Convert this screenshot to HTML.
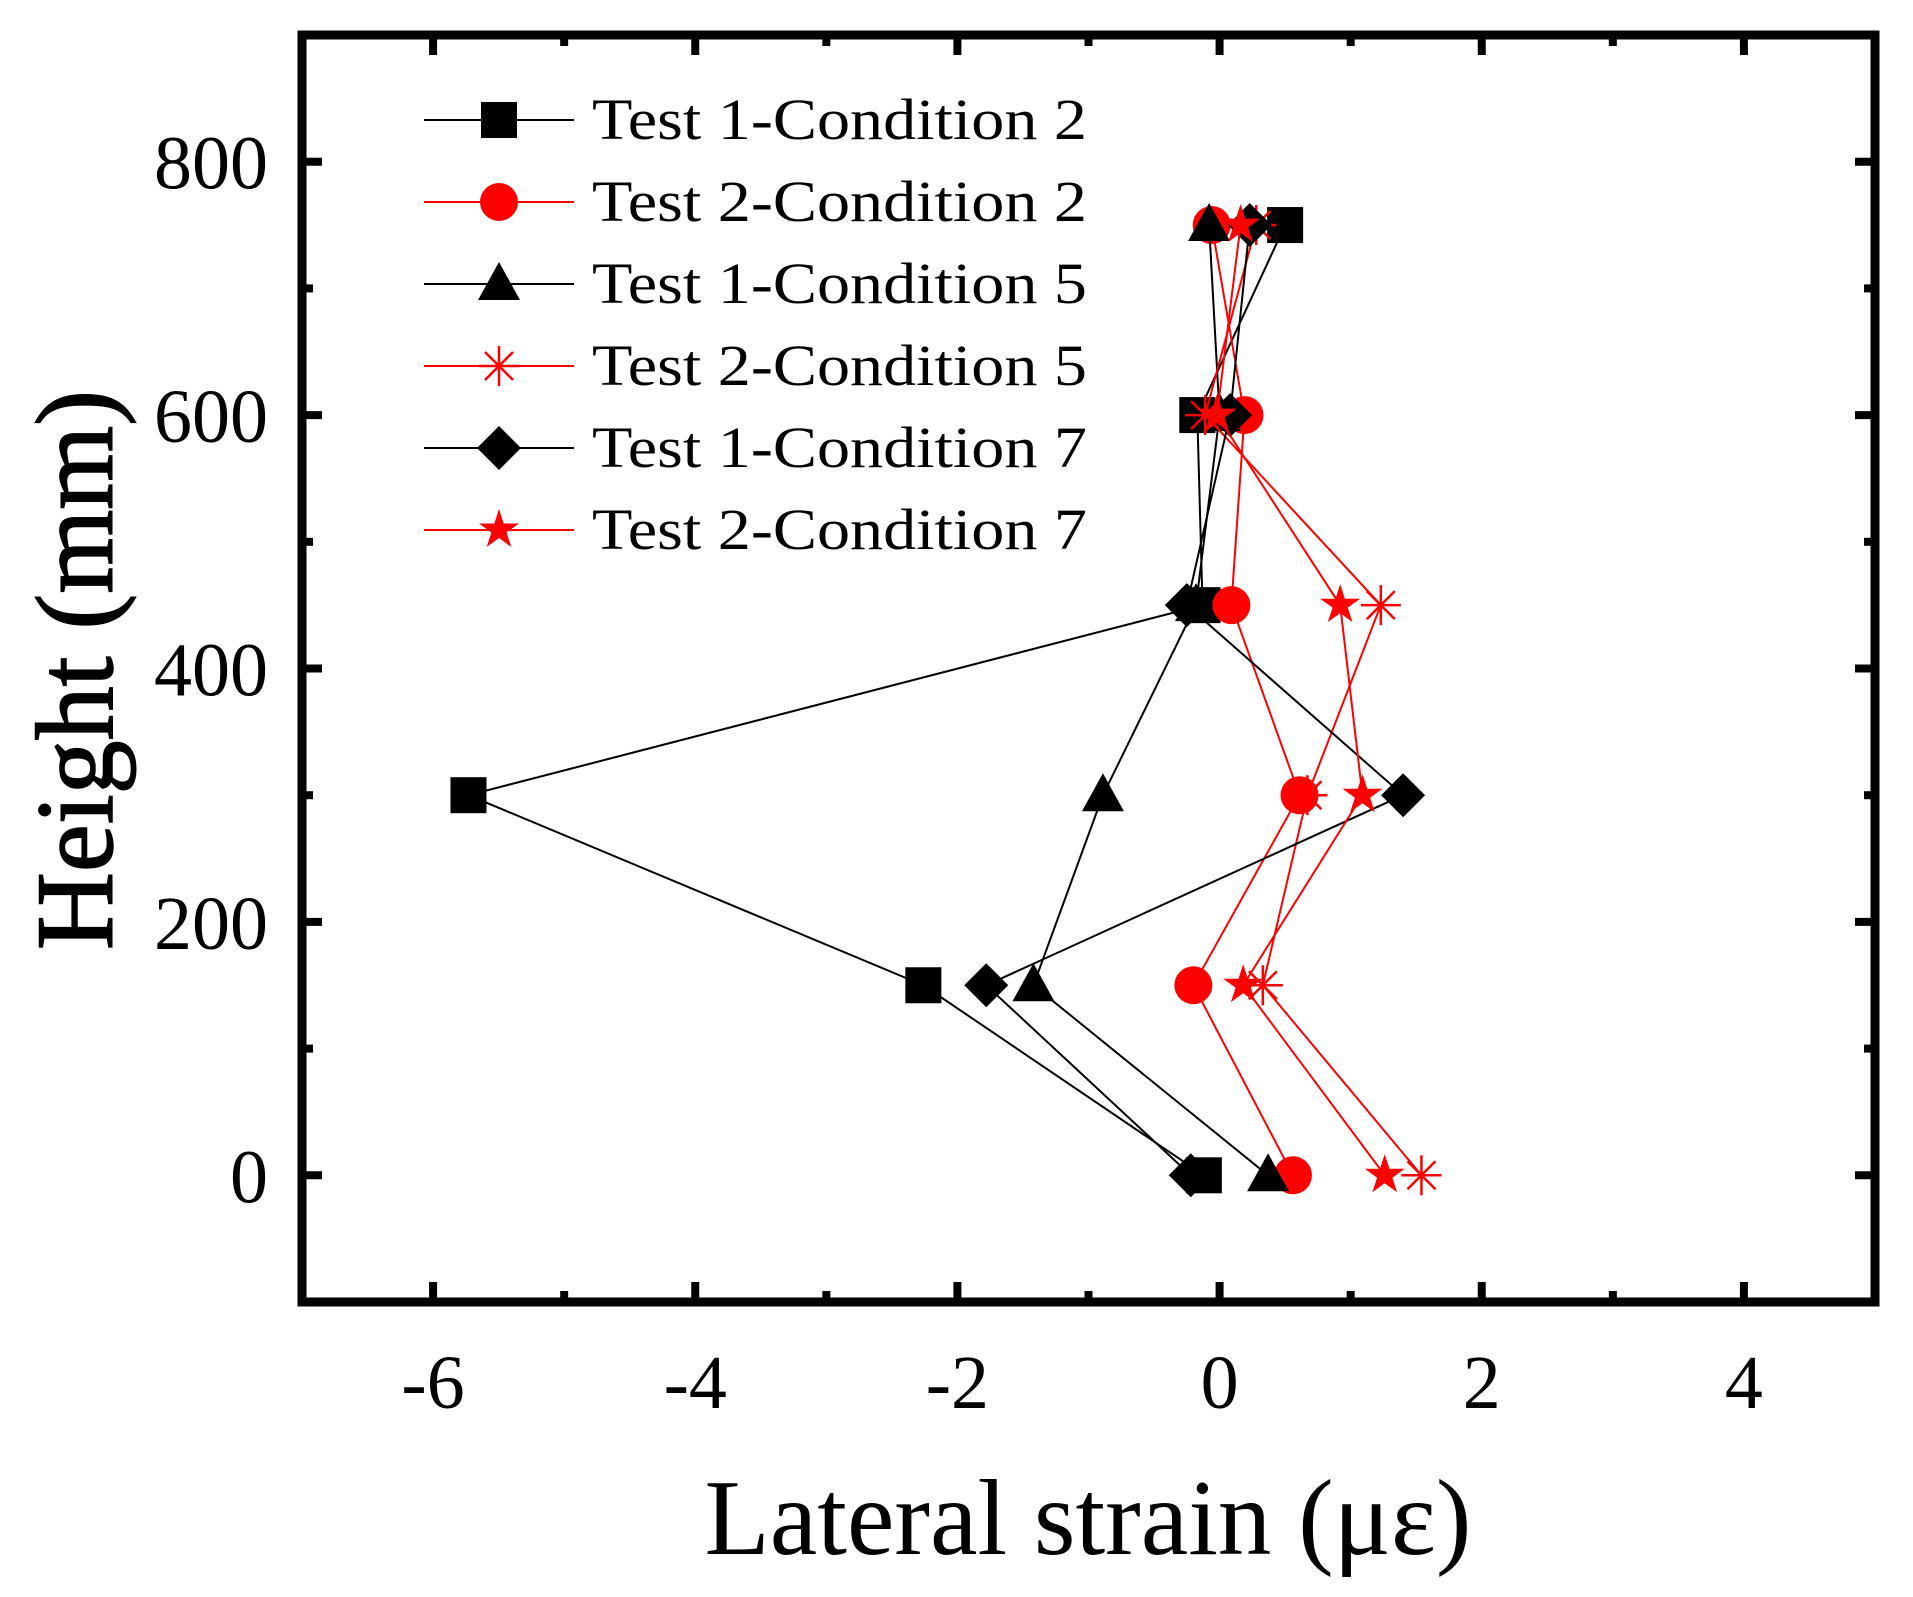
<!DOCTYPE html>
<html><head><meta charset="utf-8"><style>html,body{margin:0;padding:0;background:#fff}svg{display:block}</style></head>
<body>
<svg id="chart" xmlns="http://www.w3.org/2000/svg" width="1913" height="1597" viewBox="0 0 1913 1597" font-family="'Liberation Serif', serif">
<rect width="1913" height="1597" fill="#fff"/>
<g id="marks"></g>
<g id="axes"></g>
<g id="legend"></g>
<text x="1088" y="1554" font-size="108" text-anchor="middle" textLength="767" lengthAdjust="spacingAndGlyphs">Lateral strain (με)</text>
<text transform="translate(112,670) rotate(-90)" font-size="110" text-anchor="middle" textLength="560" lengthAdjust="spacingAndGlyphs" stroke="#000" stroke-width="1.5">Height (mm)</text>
</svg>
<script>
const heights=[750,600,450,300,150,0];
const seriesNames=["Test 1-Condition 2","Test 2-Condition 2","Test 1-Condition 5","Test 2-Condition 5","Test 1-Condition 7","Test 2-Condition 7"];
const t1c2=[0.5,-0.17,-0.13,-5.73,-2.26,-0.12];
const t2c2=[-0.06,0.19,0.09,0.61,-0.2,0.56];
const t1c5=[-0.08,0.0,-0.18,-0.89,-1.42,0.37];
const t2c5=[0.28,-0.11,1.23,0.67,0.33,1.54];
const t1c7=[0.23,0.08,-0.25,1.4,-1.78,-0.22];
const t2c7=[0.16,-0.02,0.92,1.09,0.18,1.26];
const xTicks=[-6,-4,-2,0,2,4];
const yTicks=[0,200,400,600,800];
const NS="http://www.w3.org/2000/svg";
const L=302,R=1875,T=35,B=1302,XMIN=-7,XMAX=5,YMIN=-100,YMAX=900;
function sx(v){return L+(v-XMIN)/(XMAX-XMIN)*(R-L);}
function sy(v){return B-(v-YMIN)/(YMAX-YMIN)*(B-T);}
function mk(tag,attrs,parent){const e=document.createElementNS(NS,tag);for(const k in attrs)e.setAttribute(k,attrs[k]);parent.appendChild(e);return e;}
const marks=document.getElementById('marks'),axes=document.getElementById('axes'),leg=document.getElementById('legend');
const series=[t1c2,t2c2,t1c5,t2c5,t1c7,t2c7];
const colors=["#000","#f00","#000","#f00","#000","#f00"];
const shapes=["square","circle","triangle","asterisk","diamond","star"];
function marker(shape,x,y,c,parent){
  let e;
  if(shape==="square"){e=mk('rect',{x:x-18,y:y-18,width:36,height:36,fill:c},parent);}
  else if(shape==="circle"){e=mk('circle',{cx:x,cy:y,r:19,fill:c},parent);}
  else if(shape==="triangle"){e=mk('polygon',{points:`${x},${y-22} ${x+21},${y+16} ${x-21},${y+16}`,fill:c},parent);}
  else if(shape==="diamond"){e=mk('polygon',{points:`${x},${y-22} ${x+22},${y} ${x},${y+22} ${x-22},${y}`,fill:c},parent);}
  else if(shape==="asterisk"){e=mk('path',{d:`M${x-20},${y}H${x+20}M${x},${y-20}V${y+20}M${x-14},${y-14}L${x+14},${y+14}M${x-14},${y+14}L${x+14},${y-14}`,stroke:c,'stroke-width':2.5,fill:'none'},parent);}
  else {let p=[];for(let i=0;i<10;i++){const r=i%2?8:21,a=-Math.PI/2+i*Math.PI/5;p.push((x+r*Math.cos(a)).toFixed(1)+','+(y+r*Math.sin(a)).toFixed(1));}
    e=mk('polygon',{points:p.join(' '),fill:c},parent);}
  return e;
}
series.forEach((s,i)=>{
  const g=mk('g',{},marks);
  
  
  const pl=mk('polyline',{points:s.map((v,j)=>sx(v)+','+sy(heights[j])).join(' '),fill:'none',stroke:colors[i],'stroke-width':2},g);
  
  
  s.forEach((v,j)=>{const m=marker(shapes[i],sx(v),sy(heights[j]),colors[i],g);
    
    });
  const ly=120+i*82;
  const lg=mk('g',{},leg);
  
  
  mk('line',{x1:424,x2:574,y1:ly,y2:ly,stroke:colors[i],'stroke-width':2},lg);
  marker(shapes[i],499,ly,colors[i],lg);
  const t=mk('text',{x:592,y:ly+19,'font-size':58,textLength:495,lengthAdjust:'spacingAndGlyphs'},lg);
  t.textContent=seriesNames[i];
});
const fr=mk('rect',{x:L,y:T,width:R-L,height:B-T,fill:'none',stroke:'#000','stroke-width':9},axes);


for(let v=-6;v<=4;v++){const x=sx(v),len=v%2===0?20:11;
  mk('line',{x1:x,x2:x,y1:B,y2:B-len,stroke:'#000','stroke-width':8},axes);
  mk('line',{x1:x,x2:x,y1:T,y2:T+len,stroke:'#000','stroke-width':8},axes);}
for(let v=0;v<=800;v+=100){const y=sy(v),len=v%200===0?20:11;
  mk('line',{x1:L,x2:L+len,y1:y,y2:y,stroke:'#000','stroke-width':8},axes);
  mk('line',{x1:R,x2:R-len,y1:y,y2:y,stroke:'#000','stroke-width':8},axes);}
xTicks.forEach(v=>{const t=mk('text',{x:sx(v),y:1408,'font-size':76,'text-anchor':'middle'},axes);
  
  
  t.textContent=v;});
yTicks.forEach(v=>{const t=mk('text',{x:268,y:sy(v)+27,'font-size':76,'text-anchor':'end'},axes);
  
  
  t.textContent=v;});
</script>
</body></html>
